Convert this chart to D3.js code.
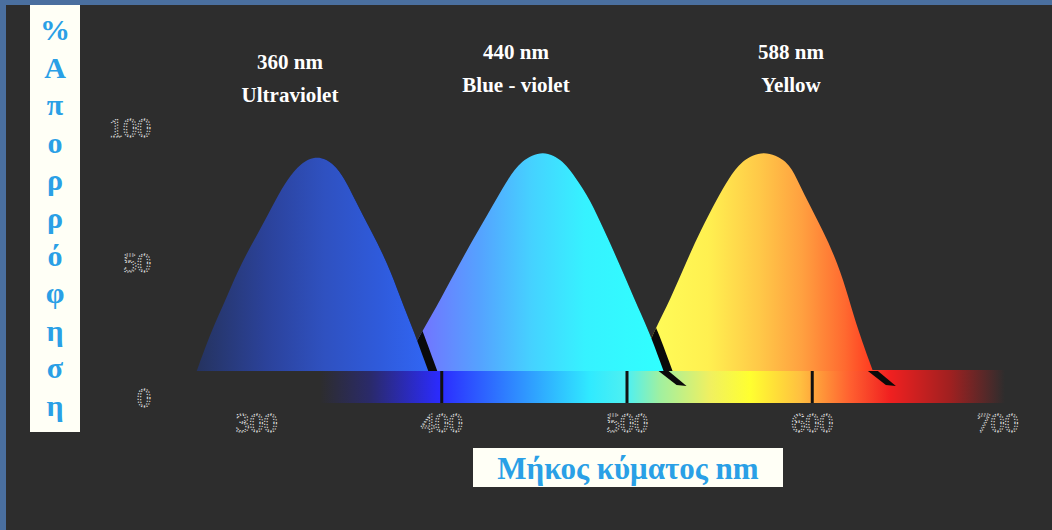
<!DOCTYPE html>
<html>
<head>
<meta charset="utf-8">
<script src="https://cdn.jsdelivr.net/npm/d3@7"></script>
<style>
  html, body { margin: 0; padding: 0; background: #4a6f9f; overflow: hidden; }
  svg { display: block; }
</style>
</head>
<body>
<script>
'use strict';

var width  = 1052;
var height = 530;

// absorbance (%) along each band
var uvWave   = [268, 276, 284, 292, 302, 311, 317, 324, 333, 342, 348, 353, 362, 371, 378, 385, 393];
var uvAbs    = [10, 25, 37, 50, 62, 74, 81, 87, 90, 87, 81, 74, 62, 50, 37, 25, 10];
var blueWave = [378, 390, 400, 410, 420, 430, 436, 443, 455, 466, 473, 480, 488, 496, 504, 512, 520];
var blueAbs  = [10, 25, 37, 50, 62, 74, 81, 88, 92, 88, 81, 74, 62, 50, 37, 25, 10];
var yelWave  = [506, 515, 524, 532, 540, 549, 555, 562, 574, 587, 592, 597, 606, 614, 620, 625, 633];
var yelAbs   = [10, 25, 37, 50, 62, 74, 81, 88, 92, 88, 81, 74, 62, 50, 37, 25, 10];

var peakLabels  = ['360 nm', '440 nm', '588 nm'];
var colorLabels = ['Ultraviolet', 'Blue - violet', 'Yellow'];

var xTicks   = [300, 400, 500, 600, 700];
var yTicks   = [0, 50, 100];
var barTicks = [400, 500, 600];

var yTitle = ['%', 'Α', 'π', 'ο', 'ρ', 'ρ', 'ό', 'φ', 'η', 'σ', 'η'];
var xTitle = 'Μήκος κύματος nm';

var bands = [
  { wave: uvWave,   abs: uvAbs,   stops: [[0, '#25335f'], [0.3, '#2b429a'], [0.55, '#2f51c0'], [0.8, '#2f5bdc'], [1, '#3166f4']] },
  { wave: blueWave, abs: blueAbs, stops: [[0, '#7468ff'], [0.1, '#6f78ff'], [0.3, '#55a2ff'], [0.5, '#45d2ff'], [0.7, '#36f2ff'], [1, '#30ffff']] },
  { wave: yelWave,  abs: yelAbs,  stops: [[0, '#ffff5a'], [0.3, '#fff050'], [0.52, '#ffc848'], [0.7, '#ffa040'], [0.88, '#ff6a30'], [1, '#ff3a20']] }
];

var svg = d3.select('body').append('svg')
    .attr('width', width)
    .attr('height', height);

var x = d3.scaleLinear().domain([300, 700]).range([256, 997]);
var y = d3.scaleLinear().domain([0, 100]).range([398, 128]);

var defs = svg.append('defs');

// slide frame + dark panel
svg.append('rect').attr('width', width).attr('height', height).attr('fill', '#4a6f9f');
svg.append('rect').attr('x', 6).attr('y', 5).attr('width', width - 6).attr('height', height - 5).attr('fill', '#2d2d2d');

// spectrum strip
var barTop = y(10) - 1;
var barH   = 33;
var barX0  = 320, barX1 = 1005;
var barStops = [
  [320, '#2d2d2d'], [370, '#2a2a6a'], [440, '#2b2bff'], [520, '#2f90ff'], [590, '#30eaff'],
  [628, '#50f0f0'], [660, '#a0f0a0'], [710, '#f0f060'], [750, '#ffff30'], [800, '#ffc040'],
  [850, '#ff6030'], [890, '#f02020'], [950, '#a02020'], [1005, '#2d2d2d']
];
var barGrad = defs.append('linearGradient').attr('id', 'bar-grad')
    .attr('gradientUnits', 'userSpaceOnUse')
    .attr('x1', barX0).attr('x2', barX1).attr('y1', 0).attr('y2', 0);
barGrad.selectAll('stop').data(barStops).enter().append('stop')
    .attr('offset', function(d) { return (d[0] - barX0) / (barX1 - barX0); })
    .attr('stop-color', function(d) { return d[1]; });

svg.append('rect')
    .attr('x', barX0).attr('y', barTop).attr('width', barX1 - barX0).attr('height', barH)
    .attr('fill', 'url(#bar-grad)');

svg.append('g')
    .attr('transform', 'translate(0,' + barTop + ')')
    .call(d3.axisBottom(x).tickValues(barTicks).tickSize(barH).tickFormat(''))
    .call(function(g) { g.select('.domain').remove(); })
    .selectAll('line').attr('stroke', '#111').attr('stroke-width', 3);

// bands
var line = d3.line()
    .x(function(d) { return x(d[0]); })
    .y(function(d) { return y(d[1]); })
    .curve(d3.curveBasis);

function bandPath(b) {
  return line(d3.zip(b.wave, b.abs)) + 'Z';
}

bands.forEach(function(b, i) {
  var g = defs.append('linearGradient').attr('id', 'band-grad-' + i)
      .attr('gradientUnits', 'userSpaceOnUse')
      .attr('x1', x(b.wave[0])).attr('x2', x(b.wave[b.wave.length - 1]))
      .attr('y1', 0).attr('y2', 0);
  g.selectAll('stop').data(b.stops).enter().append('stop')
      .attr('offset', function(d) { return d[0]; })
      .attr('stop-color', function(d) { return d[1]; });
});

// shadows only show where they fall on a coloured shape
var clip = defs.append('clipPath').attr('id', 'lit');
bands.forEach(function(b) { clip.append('path').attr('d', bandPath(b)); });
clip.append('rect').attr('x', barX0).attr('y', barTop).attr('width', barX1 - barX0).attr('height', barH);

var layer = svg.append('g');
for (var i = bands.length - 1; i >= 0; i--) {
  var b = bands[i];
  var xr = x(b.wave[b.wave.length - 1]);
  var yb = y(b.abs[b.abs.length - 1]);
  var lit = layer.append('g').attr('clip-path', 'url(#lit)');
  if (i > 0) {
    lit.append('polygon')
        .attr('points', [[xr - 5, yb], [xr + 5, yb], [xr + 23, yb + 15], [xr + 13, yb + 14]].join(' '))
        .attr('fill', '#0a0a0a');
  }
  layer.append('path')
      .attr('d', bandPath(b))
      .attr('fill', 'url(#band-grad-' + i + ')');
  if (i > 0) {
    layer.append('g').attr('clip-path', 'url(#lit)')
      .append('path')
        .attr('d', bandPath(bands[i - 1]))
        .attr('transform', 'translate(9,0)')
        .attr('fill', '#0a0a0a');
  }
}

// tick labels
function dotted(sel) {
  sel.attr('fill', 'none')
     .attr('stroke', '#e6e6e6')
     .attr('stroke-width', 1)
     .attr('stroke-dasharray', '1.2 1.6')
     .attr('font-family', '"Liberation Serif", serif')
     .attr('font-size', 28);
}

svg.append('g')
    .attr('transform', 'translate(0,432)')
    .call(d3.axisBottom(x).tickValues(xTicks).tickSize(0).tickPadding(0))
    .call(function(g) { g.select('.domain').remove(); })
    .selectAll('text').attr('y', 0).attr('dy', 0).call(dotted);

svg.append('g')
    .attr('transform', 'translate(151,0)')
    .call(d3.axisLeft(y).tickValues(yTicks).tickSize(0).tickPadding(0))
    .call(function(g) { g.select('.domain').remove(); })
    .selectAll('text').call(dotted);

// peak labels
var labelX  = [290, 516, 791];
var labelY0 = [69, 59, 59];
svg.append('g').selectAll('text').data(peakLabels).enter().append('text')
    .attr('x', function(d, i) { return labelX[i]; })
    .attr('y', function(d, i) { return labelY0[i]; })
    .attr('text-anchor', 'middle')
    .attr('fill', '#fff')
    .attr('font-family', '"Liberation Serif", serif')
    .attr('font-weight', 'bold')
    .attr('font-size', 21)
    .text(function(d) { return d; });
svg.append('g').selectAll('text').data(colorLabels).enter().append('text')
    .attr('x', function(d, i) { return labelX[i]; })
    .attr('y', function(d, i) { return labelY0[i] + 33; })
    .attr('text-anchor', 'middle')
    .attr('fill', '#fff')
    .attr('font-family', '"Liberation Serif", serif')
    .attr('font-weight', 'bold')
    .attr('font-size', 21)
    .text(function(d) { return d; });

// y title, one letter per line in a white box
svg.append('rect').attr('x', 30).attr('y', 5).attr('width', 50).attr('height', 427).attr('fill', '#fffff6');
svg.append('g').selectAll('text').data(yTitle).enter().append('text')
    .attr('x', 55)
    .attr('y', function(d, i) { return 40 + i * 37.6; })
    .attr('text-anchor', 'middle')
    .attr('fill', '#2aa0e6')
    .attr('font-family', '"Liberation Serif", serif')
    .attr('font-weight', 'bold')
    .attr('font-size', 30)
    .text(function(d) { return d; });

// x title
svg.append('rect').attr('x', 473).attr('y', 448).attr('width', 310).attr('height', 39).attr('fill', '#fffff6');
svg.append('text')
    .attr('x', 628).attr('y', 479)
    .attr('text-anchor', 'middle')
    .attr('fill', '#2aa0e6')
    .attr('font-family', '"Liberation Serif", serif')
    .attr('font-weight', 'bold')
    .attr('font-size', 31)
    .text(xTitle);
</script>
</body>
</html>
